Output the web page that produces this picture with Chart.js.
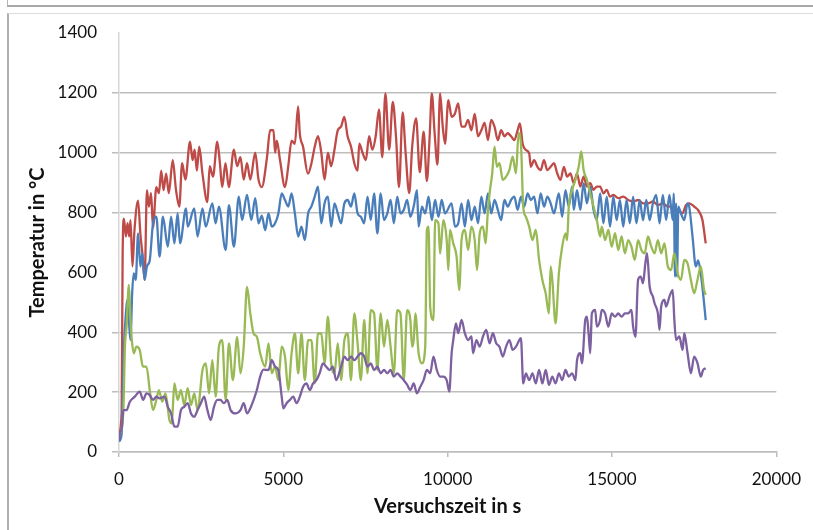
<!DOCTYPE html>
<html>
<head>
<meta charset="utf-8">
<script src="https://cdn.jsdelivr.net/npm/chart.js@4"></script>
<style>
  html, body { margin: 0; padding: 0; background: #fff; }
  #wrap { position: relative; width: 813px; height: 530px; overflow: hidden; }
  /* window frame lines around the chart */
  .bar { position: absolute; left: 7px; top: 0; width: 806px; height: 5px;
         border-left: 1px solid #b4b4b4; border-bottom: 2px solid #a8a8a8; }
  .frame { position: absolute; left: 7px; top: 13px; width: 806px; height: 517px;
           border-left: 2px solid #b0b0b0; border-top: 1px solid #dcdcdc; }
  canvas { position: absolute; left: 0; top: 0; }
</style>
</head>
<body>
<div id="wrap">
  <div class="bar"></div>
  <div class="frame"></div>
  <canvas id="chart" width="813" height="530"></canvas>
</div>
<script>
// measured temperatures, [time in s, temperature in °C]
const red = [[0,60],[80,130],[110,650],[150,780],[210,720],[260,765],[310,720],[350,775],[410,620],[470,740],[580,840],[650,730],[710,665],[780,575],[850,875],[910,820],[975,865],[1035,750],[1135,885],[1215,865],[1285,940],[1355,875],[1435,930],[1515,865],[1635,975],[1735,875],[1835,820],[1920,965],[2020,910],[2160,1037],[2240,975],[2300,1010],[2370,940],[2440,1020],[2540,930],[2690,835],[2760,955],[2860,920],[2990,1037],[3070,965],[3140,885],[3240,965],[3340,885],[3495,1010],[3595,955],[3695,985],[3795,910],[3895,965],[3995,910],[4145,1000],[4245,910],[4345,885],[4498,980],[4598,1075],[4700,1075],[4750,1000],[4800,1040],[4900,975],[5050,885],[5150,955],[5250,1040],[5350,1030],[5450,1155],[5500,1065],[5600,1020],[5750,930],[5855,965],[5955,1020],[6055,1055],[6155,1000],[6255,910],[6355,1000],[6455,955],[6555,1010],[6655,1075],[6755,1087],[6855,1120],[6955,1055],[7060,1020],[7160,965],[7260,940],[7310,1030],[7410,1000],[7510,975],[7610,1055],[7710,1010],[7810,1055],[7910,1145],[8010,985],[8105,1198],[8220,1010],[8330,1170],[8430,1050],[8520,885],[8630,1135],[8720,1000],[8830,865],[8920,1020],[9040,1115],[9150,935],[9270,1070],[9367,905],[9450,1050],[9518,1198],[9600,1070],[9690,960],[9769,1198],[9850,1087],[9920,1030],[10020,1176],[10120,1120],[10220,1130],[10320,1165],[10420,1087],[10520,1087],[10620,1110],[10720,1075],[10823,1130],[10923,1055],[11024,1075],[11124,1100],[11225,1042],[11325,1110],[11425,1087],[11526,1042],[11626,1075],[11727,1055],[11827,1065],[11928,1055],[12028,1042],[12128,1075],[12199,1098],[12279,1031],[12380,1009],[12480,998],[12530,953],[12630,975],[12730,953],[12830,942],[12930,975],[13032,942],[13132,953],[13233,965],[13333,931],[13434,909],[13534,953],[13634,920],[13735,931],[13835,898],[13935,931],[14036,887],[14136,920],[14237,887],[14337,898],[14438,876],[14538,887],[14638,887],[14739,864],[14839,876],[14940,853],[15040,859],[15190,848],[15341,853],[15492,842],[15642,837],[15793,842],[15944,831],[16094,831],[16245,837],[16395,825],[16546,831],[16697,820],[16847,820],[16998,809],[17148,798],[17249,825],[17349,831],[17500,820],[17650,803],[17751,775],[17851,697]];

const blue = [[0,35],[80,60],[150,350],[210,463],[250,508],[300,440],[350,374],[400,530],[450,597],[510,575],[580,730],[650,620],[710,664],[780,575],[850,620],[935,640],[1035,764],[1135,786],[1235,653],[1335,786],[1485,686],[1585,786],[1685,697],[1785,797],[1855,697],[2040,814],[2090,753],[2290,814],[2390,720],[2540,814],[2640,753],[2840,831],[2940,764],[3040,820],[3245,675],[3345,825],[3495,686],[3645,853],[3745,775],[3895,859],[4025,775],[4145,848],[4245,764],[4345,790],[4448,741],[4548,797],[4649,753],[4749,764],[4849,797],[4950,864],[5050,842],[5150,820],[5251,864],[5351,797],[5452,720],[5552,753],[5653,708],[5753,797],[5853,820],[5954,853],[6054,887],[6155,764],[6255,831],[6355,853],[6456,753],[6556,831],[6657,797],[6757,764],[6857,831],[6958,842],[7058,820],[7159,864],[7259,797],[7359,786],[7460,764],[7560,853],[7660,775],[7761,864],[7861,730],[7962,864],[8062,775],[8163,797],[8263,842],[8363,764],[8464,853],[8564,797],[8665,809],[8765,842],[8865,786],[8966,820],[9066,875],[9116,753],[9217,820],[9317,797],[9418,853],[9518,775],[9618,842],[9719,786],[9819,842],[9920,797],[10120,831],[10221,753],[10321,764],[10422,831],[10522,753],[10622,842],[10723,775],[10823,820],[10924,764],[11024,853],[11124,797],[11225,864],[11325,797],[11426,842],[11526,809],[11626,775],[11727,842],[11827,820],[11928,842],[12028,853],[12128,809],[12229,853],[12329,820],[12430,864],[12530,842],[12630,853],[12731,797],[12831,864],[12932,820],[13032,853],[13132,831],[13233,797],[13383,864],[13484,786],[13584,875],[13685,820],[13785,887],[13835,809],[13935,875],[14036,809],[14136,898],[14237,831],[14337,887],[14438,809],[14538,775],[14638,864],[14739,764],[14839,853],[14940,753],[15040,853],[15140,775],[15241,842],[15341,753],[15442,842],[15542,764],[15642,853],[15743,764],[15843,842],[15944,775],[16044,842],[16145,775],[16245,831],[16345,859],[16446,764],[16546,859],[16647,775],[16747,859],[16847,775],[16877,864],[16918,586],[16948,831],[16978,586],[17018,820],[17098,797],[17199,775],[17299,831],[17349,820],[17450,720],[17550,620],[17620,640],[17700,597],[17771,530],[17851,441]];

const green = [[0,50],[130,130],[180,352],[230,419],[300,558],[350,441],[390,374],[450,330],[530,352],[630,341],[730,285],[835,285],[935,207],[1035,140],[1135,174],[1215,207],[1315,168],[1415,196],[1535,107],[1605,96],[1685,229],[1785,174],[1885,207],[1985,157],[2090,213],[2190,157],[2290,196],[2390,140],[2540,274],[2640,296],[2740,196],[2840,307],[2940,185],[3040,352],[3140,374],[3245,174],[3345,363],[3465,240],[3595,385],[3695,263],[3795,352],[3895,552],[3995,463],[4095,396],[4195,385],[4295,330],[4448,285],[4548,363],[4649,263],[4749,285],[4849,240],[4950,352],[5050,319],[5150,207],[5251,330],[5351,396],[5452,263],[5552,396],[5653,240],[5753,374],[5853,374],[5954,229],[6054,396],[6155,396],[6255,296],[6355,452],[6456,296],[6556,263],[6657,363],[6757,240],[6857,374],[6958,396],[7058,240],[7159,463],[7259,363],[7359,240],[7460,441],[7560,263],[7660,474],[7761,463],[7861,274],[7962,463],[8062,352],[8163,441],[8263,352],[8363,263],[8464,474],[8564,463],[8665,240],[8765,474],[8865,441],[8916,352],[8966,374],[9016,463],[9116,330],[9217,296],[9317,352],[9367,742],[9418,753],[9468,485],[9568,441],[9618,775],[9719,764],[9769,663],[9869,775],[9970,708],[10020,608],[10070,742],[10170,697],[10271,653],[10351,541],[10422,708],[10522,742],[10622,675],[10723,753],[10823,708],[10894,608],[10974,730],[11074,753],[11154,697],[11225,809],[11275,864],[11355,931],[11426,1020],[11496,953],[11576,965],[11676,909],[11777,920],[11877,942],[11978,987],[12078,931],[12158,1065],[12229,1031],[12299,820],[12380,786],[12480,753],[12580,708],[12680,742],[12781,642],[12881,575],[12982,530],[13082,463],[13132,620],[13183,575],[13283,430],[13383,597],[13484,686],[13584,730],[13634,708],[13685,820],[13785,875],[13885,909],[13986,953],[14066,1004],[14136,942],[14237,909],[14337,864],[14438,820],[14538,775],[14638,720],[14689,753],[14789,708],[14889,742],[14990,686],[15090,731],[15190,675],[15291,720],[15391,664],[15492,708],[15592,686],[15693,642],[15793,708],[15893,675],[15994,664],[16094,720],[16195,686],[16295,664],[16395,708],[16496,664],[16596,697],[16697,620],[16797,608],[16897,664],[16998,597],[17098,575],[17199,642],[17299,630],[17400,575],[17500,530],[17600,575],[17701,620],[17801,541],[17851,525]];

const purple = [[0,40],[30,62],[90,85],[130,140],[230,140],[330,168],[480,185],[630,202],[735,174],[835,196],[935,190],[1035,174],[1135,185],[1235,179],[1385,185],[1485,151],[1585,129],[1685,85],[1785,85],[1885,140],[1985,151],[2090,163],[2190,129],[2290,118],[2390,140],[2490,163],[2590,185],[2690,140],[2790,107],[2890,151],[2990,174],[3090,174],[3190,163],[3295,174],[3395,140],[3545,129],[3695,140],[3795,163],[3895,129],[3995,146],[4095,174],[4195,207],[4295,252],[4395,275],[4548,274],[4649,307],[4749,285],[4849,274],[4950,185],[5000,146],[5100,163],[5201,174],[5301,185],[5402,163],[5502,185],[5602,218],[5703,229],[5803,207],[5904,229],[6004,240],[6104,263],[6205,296],[6305,285],[6406,274],[6506,285],[6606,240],[6757,285],[6857,319],[6958,307],[7058,319],[7159,307],[7259,319],[7359,330],[7460,319],[7560,285],[7660,296],[7761,274],[7861,285],[7962,263],[8062,274],[8163,263],[8263,274],[8363,252],[8464,263],[8564,252],[8665,240],[8765,225],[8865,207],[8966,229],[9066,196],[9167,218],[9267,240],[9367,274],[9468,263],[9568,319],[9669,274],[9769,252],[9869,252],[9970,240],[10050,202],[10120,330],[10170,374],[10251,430],[10321,397],[10422,441],[10522,397],[10622,374],[10723,386],[10773,330],[10873,374],[10974,352],[11074,386],[11174,408],[11275,363],[11375,397],[11476,363],[11576,352],[11676,319],[11777,352],[11877,374],[11978,341],[12078,352],[12229,380],[12299,229],[12380,263],[12480,240],[12580,263],[12680,229],[12781,274],[12881,229],[12982,274],[13082,224],[13183,252],[13283,229],[13383,263],[13484,240],[13584,274],[13685,252],[13785,263],[13885,240],[13936,307],[14036,330],[14086,296],[14186,441],[14237,452],[14287,397],[14337,330],[14387,463],[14488,475],[14538,419],[14638,441],[14689,475],[14789,463],[14889,419],[14990,463],[15090,452],[15190,463],[15291,452],[15391,463],[15492,463],[15592,475],[15642,419],[15713,385],[15793,575],[15873,586],[15944,564],[16014,630],[16064,664],[16145,553],[16245,519],[16295,497],[16395,463],[16446,408],[16496,486],[16596,508],[16646,486],[16747,519],[16847,541],[16897,441],[16948,374],[17048,386],[17148,341],[17199,397],[17299,330],[17400,263],[17500,319],[17600,297],[17701,252],[17771,274],[17851,280]];

const yTicks = [0, 200, 400, 600, 800, 1000, 1200, 1400];
const xTicks = [0, 5000, 10000, 15000, 20000];
const hiddenGrid = [600, 1400];   // these two gridlines are not drawn

const FONT = 'Lato, "Open Sans", sans-serif';

const toXY = arr => arr.map(([x, y]) => ({ x, y }));
const line = (data, color, order) => ({
  data: toXY(data),
  borderColor: color,
  borderWidth: 2.3,
  pointRadius: 0,
  showLine: true,
  fill: false,
  cubicInterpolationMode: 'monotone',
  order
});

new Chart(document.getElementById('chart'), {
  type: 'scatter',
  data: {
    datasets: [
      line(purple, '#7d60a0', 0),
      line(green, '#98b954', 1),
      line(blue, '#4a7ebb', 2),
      line(red, '#be4b48', 3)
    ]
  },
  options: {
    responsive: false,
    animation: false,
    events: [],
    layout: { padding: { top: 33, right: 30, bottom: 0, left: 0 } },
    plugins: { legend: { display: false }, tooltip: { enabled: false } },
    scales: {
      x: {
        type: 'linear',
        min: 0, max: 20000,
        afterFit: s => { s.height = 78; },
        afterBuildTicks: s => { s.ticks = xTicks.map(v => ({ value: v })); },
        grid: { drawOnChartArea: false, drawTicks: true, tickLength: 5, color: '#bdbdbd', lineWidth: 1.5 },
        border: { color: '#bdbdbd', width: 1.5 },
        ticks: { color: '#111', padding: 12, maxRotation: 0, font: { family: FONT, size: 17 }, callback: v => String(v) },
        title: { display: true, text: 'Versuchszeit in s', color: '#111', padding: { top: 0, bottom: 11 },
                 font: { family: FONT, size: 20, weight: 'bold' } }
      },
      y: {
        type: 'linear',
        min: 0, max: 1400,
        afterFit: s => { s.width = 119; },
        afterBuildTicks: s => { s.ticks = yTicks.map(v => ({ value: v })); },
        grid: {
          tickLength: 7,
          lineWidth: 1.5,
          color: c => hiddenGrid.includes(c.tick && c.tick.value) ? 'rgba(0,0,0,0)' : '#bdbdbd'
        },
        border: { color: '#d6d6d6', width: 1.5 },
        ticks: { color: '#111', padding: 15, font: { family: FONT, size: 17 }, callback: v => String(v) },
        title: { display: true, text: 'Temperatur in °C', color: '#111', padding: { top: 26, bottom: 0 },
                 font: { family: FONT, size: 20, weight: 'bold' } }
      }
    }
  }
});
</script>
</body>
</html>
